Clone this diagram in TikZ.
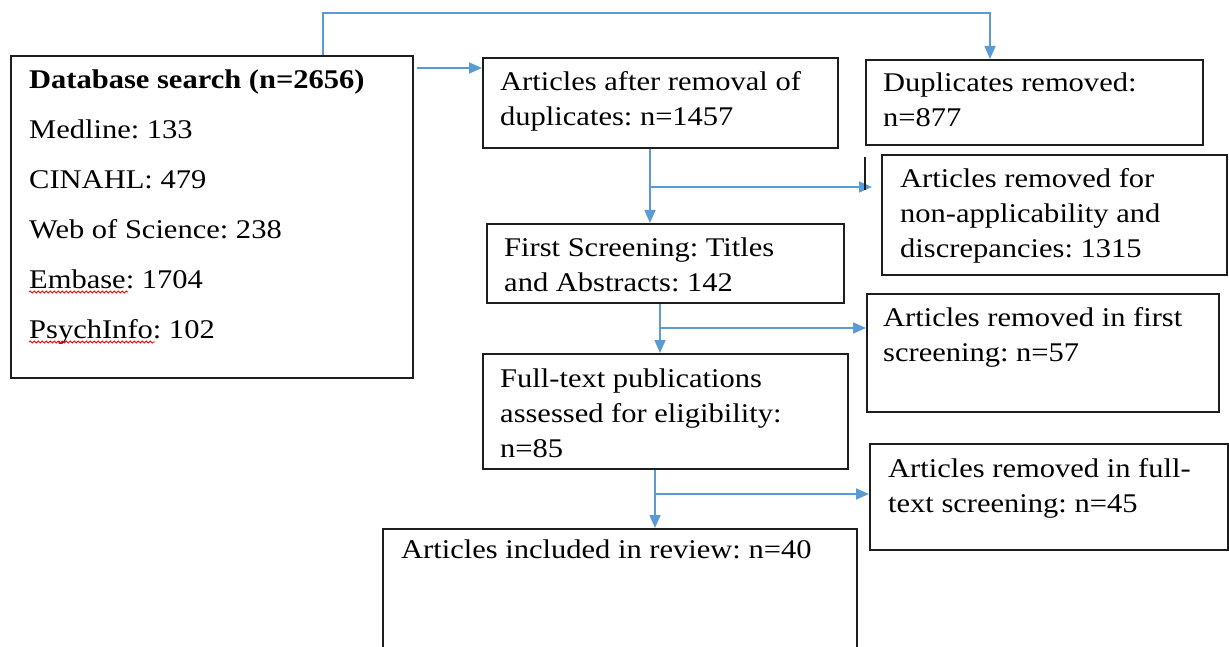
\documentclass[tikz,border=0pt]{standalone}
\usepackage{fontspec}
\setmainfont{Liberation Serif}[FakeStretch=1.13]
\usetikzlibrary{arrows.meta,decorations.pathmorphing}
\definecolor{arrowblue}{RGB}{91,155,213}
\definecolor{boxline}{RGB}{30,30,30}
\frenchspacing
\begin{document}
\begin{tikzpicture}[x=1pt,y=-1pt,
  box/.style={draw=boxline,line width=1.6pt,inner sep=0pt,anchor=north west},
  txt/.style={anchor=base west,inner sep=0pt,font=\fontsize{27}{35}\selectfont},
  dbtxt/.style={anchor=base west,inner sep=0pt,font=\fontsize{27}{50}\selectfont},
  flow/.style={draw=arrowblue,line width=1.6pt},
  arr/.style={flow,-{Triangle[length=13pt,width=11pt]}},
  squiggle/.style={draw=red,line width=0.8pt,decorate,decoration={snake,amplitude=1pt,segment length=4pt}}
]
\useasboundingbox (0,0) rectangle (1229,647);

% boxes
\node[box,minimum width=402pt,minimum height=322pt] (db) at (10,55) {};
\node[box,minimum width=355pt,minimum height=90pt] (dup) at (482,57) {};
\node[box,minimum width=337pt,minimum height=85pt] (dr) at (865,59) {};
\node[box,minimum width=345pt,minimum height=120pt] (na) at (881,154) {};
\node[box,minimum width=357pt,minimum height=79pt] (fs) at (486,223) {};
\node[box,minimum width=352pt,minimum height=118pt] (r1) at (866,293) {};
\node[box,minimum width=365pt,minimum height=115pt] (ft) at (482,353) {};
\node[box,minimum width=358pt,minimum height=106pt] (r2) at (869,443) {};
\node[box,minimum width=474pt,minimum height=150pt] (inc) at (382,528) {};

% texts
\node[dbtxt] (dbt) at (29,89) {\vtop{\hbox{\bfseries Database search (n=2656)}\hbox{Medline: 133}\hbox{CINAHL: 479}\hbox{Web of Science: 238}\hbox{Embase: 1704}\hbox{PsychInfo: 102}}};
\node[txt] (dupt) at (500,91) {\vtop{\hbox{Articles after removal of}\hbox{duplicates: n=1457}}};
\node[txt] (drt) at (883,92) {\vtop{\hbox{Duplicates removed:}\hbox{n=877}}};
\node[txt] (nat) at (900,188) {\vtop{\hbox{Articles removed for}\hbox{non-applicability and}\hbox{discrepancies: 1315}}};
\node[txt] (fst) at (504,257) {\vtop{\hbox{First Screening: Titles}\hbox{and Abstracts: 142}}};
\node[txt] (r1t) at (883,326) {\vtop{\hbox{Articles removed in first}\hbox{screening: n=57}}};
\node[txt] (ftt) at (500,387) {\vtop{\hbox{Full-text publications}\hbox{assessed for eligibility:}\hbox{n=85}}};
\node[txt] (r2t) at (888,477) {\vtop{\hbox{Articles removed in full-}\hbox{text screening: n=45}}};
\node[txt] (inct) at (401,558) {Articles included in review: n=40};

% spell-check squiggles
\draw[squiggle] (29,292) -- (128,292);
\draw[squiggle] (29,342) -- (155,342);

% connectors
\coordinate (a1) at (323,13);
\coordinate (a2) at (990,13);
\draw[arr] (db.north -| a1) -- (a1) -- (a2) -- (a2 |- dr.north);

\coordinate (d1) at (417,68);
\draw[arr] (d1) -- (d1 -| dup.west);

\coordinate (t1) at (650,187);
\draw[arr] (dup.south -| t1) -- (fs.north -| t1);
\draw[arr,shorten >=9pt] (t1) -- (t1 -| na.west);
\draw[boxline,line width=1.2pt] (865,157) -- (865,190);

\coordinate (t2) at (660,328);
\draw[arr] (fs.south -| t2) -- (ft.north -| t2);
\draw[arr] (t2) -- (t2 -| r1.west);

\coordinate (t3) at (655,494);
\draw[arr] (ft.south -| t3) -- (inc.north -| t3);
\draw[arr] (t3) -- (t3 -| r2.west);
\end{tikzpicture}
\end{document}
